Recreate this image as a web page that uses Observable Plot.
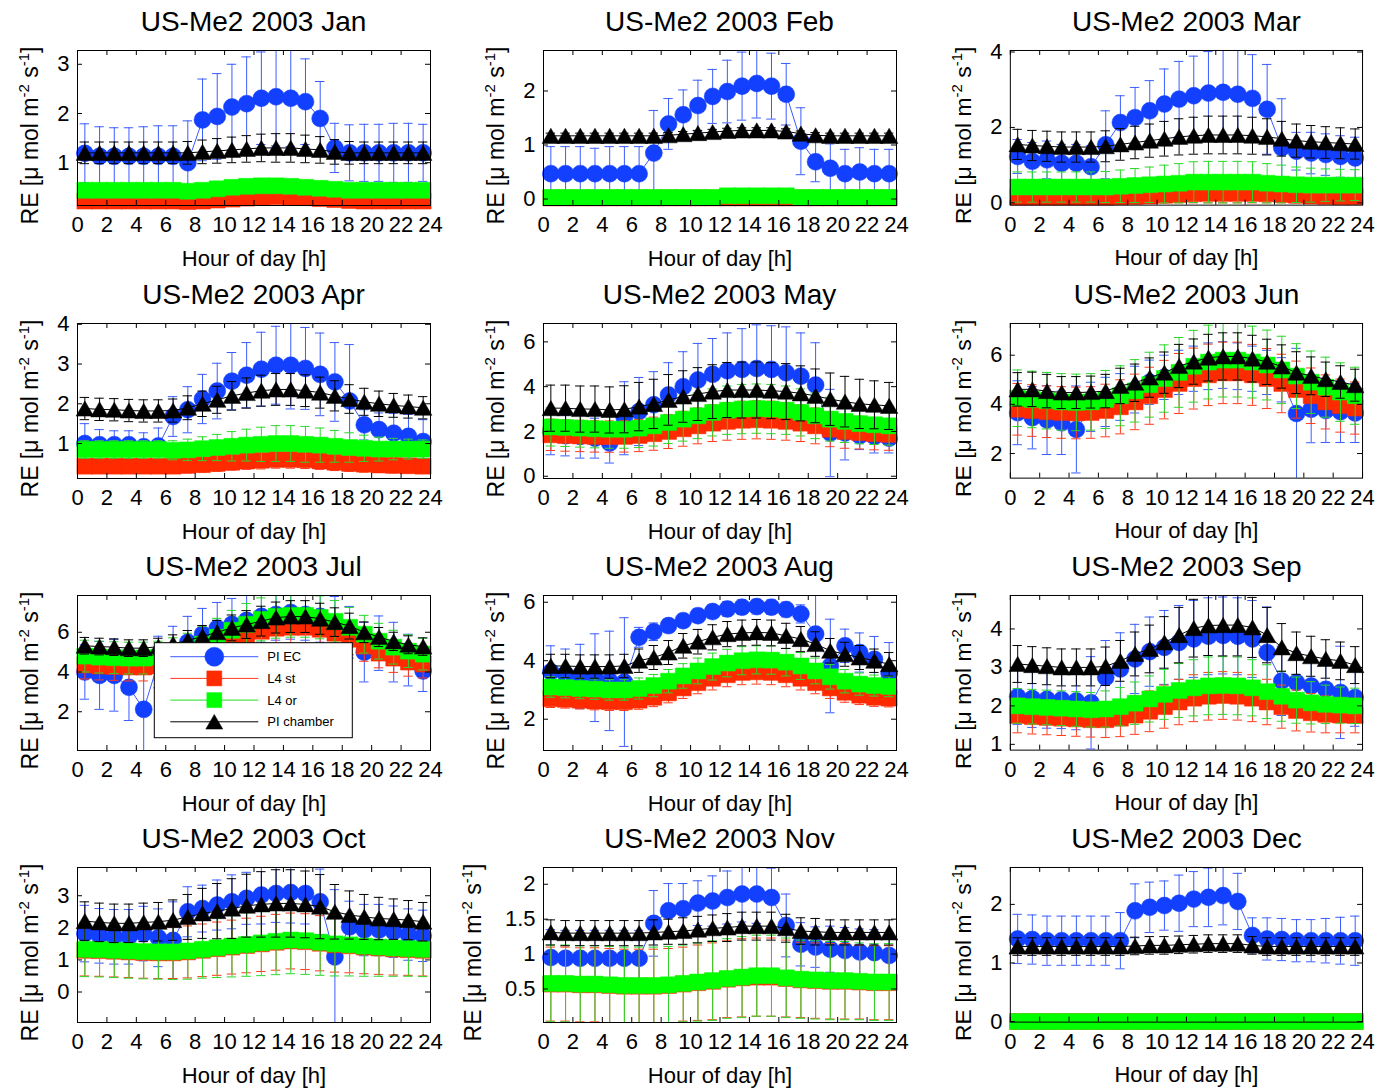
<!DOCTYPE html>
<html>
<head>
<meta charset="utf-8">
<script src="https://cdn.jsdelivr.net/npm/d3@7"></script>
<script src="https://cdn.jsdelivr.net/npm/@observablehq/plot@0.6"></script>
<style>
  html, body { margin: 0; padding: 0; background: #ffffff; }
  #chart { position: relative; width: 1378px; height: 1091px; overflow: hidden; background: #ffffff; }
  .panel { position: absolute; }
  .title { position: absolute; white-space: nowrap; font-family: "Liberation Sans", Arial, Helvetica, sans-serif; font-size: 28px; line-height: 28px; color: #000; }
</style>
</head>
<body>
<div id="chart"></div>
<script>
const FONT = '"Liberation Sans", Arial, Helvetica, sans-serif';

// ---------------- data ----------------
const months = ["Jan","Feb","Mar","Apr","May","Jun","Jul","Aug","Sep","Oct","Nov","Dec"];
const hours = [0.5,1.5,2.5,3.5,4.5,5.5,6.5,7.5,8.5,9.5,10.5,11.5,12.5,13.5,14.5,15.5,16.5,17.5,18.5,19.5,20.5,21.5,22.5,23.5];
const xTicks = [0,2,4,6,8,10,12,14,16,18,20,22,24];
const seriesNames = ["PI EC","L4 st","L4 or","PI chamber"];
const xLabel = "Hour of day [h]";

const yDomains = [[0.13,3.28],[-0.12,2.75],[-0.06,4.04],[0.12,4.02],[-0.1,6.82],[1.0,7.29],
                  [0.05,7.85],[0.93,6.23],[0.85,4.87],[-0.95,3.88],[0.02,2.24],[-0.01,2.63]];
const yTicks = [[1,2,3],[0,1,2],[0,2,4],[1,2,3,4],[0,2,4,6],[2,4,6],
                [2,4,6],[2,4,6],[1,2,3,4],[0,1,2,3],[0.5,1,1.5,2],[0,1,2]];

// PI EC (blue)
const ecVal = [
 [1.19,1.13,1.13,1.13,1.13,1.13,1.13,1.0,1.87,1.94,2.13,2.2,2.31,2.34,2.31,2.24,1.9,1.3,1.2,1.2,1.2,1.2,1.2,1.2],
 [0.47,0.47,0.47,0.47,0.47,0.47,0.47,0.85,1.39,1.56,1.73,1.9,1.99,2.09,2.14,2.09,1.94,1.07,0.69,0.57,0.47,0.5,0.47,0.47],
 [1.23,1.1,1.14,1.05,1.05,0.96,1.54,2.13,2.26,2.44,2.62,2.75,2.84,2.91,2.93,2.88,2.77,2.48,1.46,1.37,1.32,1.28,1.23,1.19],
 [1.0,0.97,0.97,0.97,0.92,0.94,1.68,1.85,2.12,2.32,2.57,2.72,2.87,2.97,2.97,2.89,2.74,2.55,2.07,1.47,1.35,1.26,1.18,1.05],
 [1.96,1.81,1.78,1.7,1.48,2.59,2.89,3.19,3.63,4.0,4.3,4.55,4.71,4.77,4.81,4.77,4.62,4.47,4.07,1.93,1.93,1.81,1.78,1.7],
 [3.66,3.46,3.36,3.25,2.98,3.9,4.1,4.3,4.6,4.9,5.1,5.3,5.45,5.55,5.6,5.55,5.45,5.3,5.0,3.63,3.8,3.75,3.7,3.65],
 [4.0,3.83,3.83,3.23,2.12,4.5,5.0,5.5,5.9,6.2,6.4,6.6,6.8,6.9,7.0,6.9,6.8,6.5,6.0,5.0,5.45,5.0,4.6,4.05],
 [3.62,3.54,3.46,3.42,3.31,3.27,4.8,4.99,5.2,5.37,5.54,5.68,5.77,5.83,5.85,5.83,5.75,5.6,4.91,3.82,4.51,4.28,4.05,3.57],
 [2.24,2.19,2.17,2.16,2.13,2.08,2.74,2.96,3.22,3.41,3.52,3.65,3.74,3.81,3.83,3.81,3.74,3.39,2.65,2.61,2.52,2.43,2.35,2.22],
 [1.82,1.75,1.72,1.72,1.82,1.69,1.61,2.5,2.6,2.71,2.81,2.92,3.02,3.07,3.1,3.07,2.81,1.09,2.03,1.93,1.93,1.88,1.79,1.75],
 [0.95,0.94,0.94,0.94,0.94,0.94,0.94,1.44,1.62,1.65,1.73,1.76,1.81,1.86,1.86,1.81,1.41,1.14,1.1,1.07,1.05,1.03,1.02,0.98],
 [1.41,1.4,1.38,1.38,1.38,1.38,1.38,1.38,1.89,1.95,1.98,2.02,2.09,2.12,2.15,2.05,1.47,1.41,1.4,1.38,1.38,1.38,1.38,1.38]
];
const ecErr = [
 [0.6,0.6,0.58,0.58,0.6,0.62,0.62,0.85,0.83,0.87,0.87,0.95,0.94,1.0,0.98,0.87,0.75,0.5,0.57,0.58,0.58,0.6,0.6,0.58],
 [0.5,0.5,0.5,0.47,0.5,0.5,0.5,0.79,0.47,0.46,0.47,0.5,0.58,0.63,0.64,0.61,0.57,0.62,0.37,0.45,0.45,0.45,0.45,0.45],
 [0.45,0.5,0.5,0.5,0.5,0.55,0.9,0.71,0.8,0.8,0.93,1.0,1.05,1.1,1.15,1.16,1.16,1.19,1.3,0.5,0.55,0.55,0.55,0.55],
 [0.5,0.38,0.35,0.35,0.35,0.45,0.5,0.58,0.62,0.7,0.72,0.82,0.93,0.98,1.1,1.03,1.04,0.99,1.42,0.38,0.42,0.5,0.55,0.55],
 [1.0,0.9,0.97,0.89,0.89,1.63,1.52,1.48,1.44,1.56,1.63,1.6,1.69,1.82,1.95,1.95,2.05,1.93,1.89,1.95,1.2,0.62,0.74,0.66],
 [1.3,1.27,1.4,1.29,1.77,1.0,1.0,0.95,0.95,0.9,0.9,0.9,0.92,0.95,0.95,0.95,0.92,0.9,0.9,2.65,1.36,1.3,1.25,1.2],
 [1.37,1.71,1.8,1.67,2.2,1.3,1.3,1.3,1.3,1.3,1.3,1.3,1.3,1.3,1.35,1.3,1.3,1.3,1.3,1.5,1.37,1.5,1.3,1.03],
 [0.89,0.86,1.1,1.5,1.7,2.2,0.34,0.3,0.23,0.23,0.23,0.23,0.25,0.25,0.25,0.25,0.25,0.31,1.4,1.6,0.57,0.67,0.78,1.05],
 [0.72,0.75,0.75,0.75,0.75,1.2,0.96,0.94,0.9,0.9,0.96,0.96,1.0,1.0,1.0,1.0,1.0,1.18,0.9,0.8,0.75,0.8,1.2,0.75],
 [0.88,0.85,0.85,0.85,0.85,0.9,1.2,0.78,0.73,0.78,0.84,0.81,0.9,0.9,0.95,0.95,1.02,2.1,0.8,0.8,0.8,0.8,0.8,0.8],
 [0.4,0.4,0.4,0.4,0.4,0.4,0.4,0.47,0.39,0.36,0.32,0.36,0.38,0.4,0.42,0.42,0.45,0.31,0.29,0.33,0.33,0.33,0.33,0.3],
 [0.42,0.42,0.42,0.42,0.42,0.42,0.42,0.48,0.46,0.43,0.42,0.48,0.47,0.5,0.5,0.48,0.3,0.36,0.36,0.36,0.36,0.38,0.4,0.42]
];

// L4 st (red)
const stVal = [
 [0.22,0.22,0.22,0.22,0.22,0.22,0.22,0.21,0.22,0.24,0.26,0.28,0.3,0.31,0.3,0.29,0.27,0.25,0.23,0.22,0.22,0.22,0.22,0.22],
 [0.02,0.02,0.02,0.02,0.02,0.02,0.02,0.02,0.02,0.02,0.02,0.02,0.02,0.02,0.02,0.02,0.02,0.02,0.02,0.02,0.02,0.02,0.02,0.02],
 [0.15,0.15,0.15,0.15,0.15,0.15,0.15,0.16,0.17,0.18,0.2,0.22,0.24,0.25,0.25,0.25,0.25,0.24,0.22,0.2,0.18,0.17,0.16,0.16],
 [0.43,0.43,0.43,0.43,0.43,0.43,0.43,0.45,0.47,0.5,0.53,0.56,0.58,0.6,0.6,0.59,0.56,0.53,0.5,0.48,0.46,0.45,0.44,0.43],
 [1.85,1.82,1.8,1.78,1.77,1.78,1.82,1.9,2.0,2.12,2.25,2.37,2.45,2.5,2.52,2.5,2.45,2.37,2.25,2.1,2.0,1.95,1.9,1.87],
 [3.8,3.75,3.7,3.67,3.65,3.67,3.75,3.9,4.1,4.35,4.6,4.85,5.05,5.2,5.28,5.28,5.2,5.05,4.85,4.6,4.35,4.1,3.95,3.85],
 [4.35,4.3,4.28,4.25,4.25,4.3,4.45,4.65,4.95,5.25,5.55,5.85,6.05,6.2,6.25,6.25,6.15,5.95,5.65,5.3,4.95,4.7,4.5,4.4],
 [2.7,2.68,2.65,2.62,2.6,2.6,2.65,2.75,2.9,3.07,3.25,3.4,3.52,3.6,3.62,3.6,3.52,3.4,3.25,3.07,2.92,2.82,2.75,2.72],
 [1.75,1.72,1.7,1.68,1.66,1.64,1.64,1.68,1.76,1.86,1.98,2.1,2.2,2.25,2.27,2.25,2.2,2.1,1.98,1.88,1.82,1.78,1.76,1.75],
 [1.3,1.29,1.27,1.25,1.23,1.22,1.22,1.25,1.3,1.35,1.4,1.45,1.5,1.55,1.59,1.57,1.52,1.47,1.44,1.4,1.37,1.34,1.32,1.3],
 [0.57,0.57,0.56,0.56,0.55,0.54,0.54,0.54,0.55,0.57,0.59,0.61,0.64,0.66,0.67,0.67,0.65,0.63,0.62,0.61,0.61,0.6,0.59,0.59],
 [0,0,0,0,0,0,0,0,0,0,0,0,0,0,0,0,0,0,0,0,0,0,0,0]
];
const stErr = [
 [0.04,0.04,0.04,0.04,0.04,0.04,0.04,0.04,0.04,0.04,0.04,0.04,0.04,0.04,0.04,0.04,0.04,0.04,0.04,0.04,0.04,0.04,0.04,0.04],
 [0,0,0,0,0,0,0,0,0,0,0,0,0,0,0,0,0,0,0,0,0,0,0,0],
 [0.15,0.15,0.15,0.15,0.15,0.15,0.15,0.16,0.17,0.18,0.2,0.22,0.24,0.25,0.25,0.25,0.25,0.24,0.22,0.2,0.18,0.17,0.16,0.16],
 [0.18,0.18,0.18,0.18,0.18,0.18,0.18,0.19,0.19,0.2,0.2,0.21,0.22,0.22,0.22,0.22,0.21,0.21,0.2,0.2,0.19,0.19,0.18,0.18],
 [0.7,0.7,0.7,0.7,0.7,0.7,0.72,0.74,0.76,0.78,0.8,0.82,0.84,0.85,0.85,0.85,0.84,0.82,0.8,0.78,0.75,0.73,0.72,0.71],
 [1.05,1.05,1.05,1.05,1.05,1.05,1.07,1.1,1.13,1.16,1.19,1.22,1.24,1.25,1.25,1.25,1.24,1.22,1.19,1.16,1.13,1.1,1.08,1.06],
 [0.7,0.7,0.7,0.7,0.7,0.7,0.71,0.72,0.74,0.76,0.78,0.79,0.8,0.8,0.8,0.8,0.8,0.79,0.78,0.76,0.74,0.72,0.71,0.7],
 [0.3,0.3,0.3,0.3,0.3,0.3,0.31,0.32,0.34,0.36,0.38,0.4,0.41,0.42,0.42,0.42,0.41,0.4,0.38,0.36,0.34,0.32,0.31,0.3],
 [0.45,0.45,0.45,0.45,0.45,0.45,0.46,0.48,0.5,0.53,0.56,0.59,0.61,0.62,0.62,0.62,0.61,0.59,0.56,0.53,0.5,0.48,0.46,0.45],
 [0.8,0.8,0.8,0.8,0.8,0.8,0.8,0.81,0.82,0.83,0.84,0.85,0.86,0.87,0.87,0.87,0.86,0.85,0.84,0.83,0.82,0.81,0.8,0.8],
 [0.53,0.53,0.53,0.53,0.53,0.53,0.53,0.53,0.53,0.53,0.54,0.55,0.55,0.56,0.56,0.56,0.55,0.54,0.54,0.54,0.54,0.53,0.53,0.53],
 [0,0,0,0,0,0,0,0,0,0,0,0,0,0,0,0,0,0,0,0,0,0,0,0]
];

// L4 or (green)
const orVal = [
 [0.44,0.44,0.44,0.44,0.44,0.44,0.44,0.42,0.44,0.47,0.5,0.52,0.53,0.53,0.52,0.5,0.48,0.46,0.44,0.44,0.44,0.44,0.44,0.44],
 [0.03,0.03,0.03,0.03,0.03,0.03,0.03,0.03,0.03,0.03,0.03,0.03,0.06,0.06,0.06,0.06,0.06,0.03,0.03,0.03,0.03,0.03,0.03,0.03],
 [0.42,0.42,0.42,0.42,0.42,0.42,0.42,0.44,0.46,0.48,0.5,0.52,0.55,0.55,0.55,0.55,0.55,0.52,0.5,0.48,0.47,0.47,0.47,0.47],
 [0.85,0.85,0.85,0.85,0.85,0.85,0.83,0.84,0.87,0.9,0.93,0.96,0.98,1.0,1.0,0.98,0.96,0.93,0.9,0.88,0.86,0.86,0.86,0.86],
 [2.2,2.18,2.15,2.12,2.1,2.1,2.15,2.25,2.4,2.55,2.7,2.85,2.95,3.0,3.02,3.0,2.95,2.85,2.7,2.55,2.45,2.35,2.3,2.25],
 [4.25,4.2,4.15,4.1,4.08,4.1,4.2,4.35,4.55,4.8,5.05,5.3,5.55,5.72,5.8,5.8,5.72,5.6,5.4,5.15,4.9,4.7,4.5,4.35],
 [4.8,4.75,4.72,4.7,4.7,4.75,4.9,5.1,5.4,5.75,6.1,6.4,6.65,6.8,6.85,6.85,6.75,6.55,6.25,5.9,5.55,5.25,5.05,4.9],
 [3.1,3.08,3.05,3.03,3.0,3.0,3.05,3.15,3.3,3.48,3.65,3.8,3.92,4.0,4.03,4.02,3.95,3.82,3.65,3.45,3.3,3.2,3.15,3.12],
 [2.0,1.98,1.96,1.94,1.92,1.9,1.92,1.98,2.07,2.18,2.3,2.4,2.47,2.52,2.53,2.52,2.47,2.37,2.25,2.15,2.08,2.04,2.02,2.0],
 [1.33,1.32,1.3,1.28,1.26,1.25,1.25,1.28,1.33,1.38,1.43,1.48,1.53,1.58,1.62,1.6,1.55,1.5,1.47,1.43,1.4,1.37,1.35,1.33],
 [0.58,0.58,0.57,0.57,0.56,0.55,0.55,0.55,0.56,0.58,0.6,0.62,0.65,0.67,0.69,0.69,0.66,0.64,0.63,0.62,0.62,0.61,0.6,0.6],
 [0,0,0,0,0,0,0,0,0,0,0,0,0,0,0,0,0,0,0,0,0,0,0,0]
];
const orErr = [
 [0.05,0.05,0.05,0.05,0.05,0.05,0.05,0.05,0.05,0.05,0.05,0.05,0.05,0.05,0.05,0.05,0.05,0.05,0.05,0.05,0.05,0.05,0.05,0.05],
 [0,0,0,0,0,0,0,0,0,0,0,0,0,0,0,0,0,0,0,0,0,0,0,0],
 [0.4,0.4,0.4,0.4,0.4,0.4,0.41,0.43,0.45,0.47,0.5,0.52,0.54,0.55,0.55,0.55,0.54,0.52,0.5,0.47,0.45,0.43,0.42,0.41],
 [0.22,0.22,0.22,0.22,0.22,0.22,0.24,0.27,0.3,0.33,0.37,0.4,0.43,0.45,0.45,0.45,0.43,0.4,0.37,0.33,0.3,0.27,0.25,0.23],
 [0.85,0.85,0.85,0.85,0.85,0.85,0.87,0.9,0.94,0.98,1.02,1.05,1.08,1.1,1.1,1.1,1.08,1.05,1.02,0.98,0.94,0.9,0.88,0.86],
 [1.15,1.15,1.15,1.15,1.15,1.15,1.18,1.22,1.27,1.32,1.37,1.42,1.46,1.5,1.5,1.5,1.46,1.42,1.37,1.32,1.27,1.22,1.19,1.16],
 [0.8,0.8,0.8,0.8,0.8,0.8,0.82,0.85,0.9,0.95,1.0,1.05,1.08,1.1,1.1,1.1,1.08,1.05,1.0,0.95,0.9,0.85,0.82,0.8],
 [0.35,0.35,0.35,0.35,0.35,0.35,0.36,0.38,0.4,0.42,0.44,0.46,0.47,0.48,0.48,0.48,0.47,0.46,0.44,0.42,0.4,0.38,0.36,0.35],
 [0.45,0.45,0.45,0.45,0.45,0.45,0.47,0.5,0.55,0.6,0.65,0.7,0.73,0.75,0.75,0.75,0.73,0.7,0.65,0.6,0.55,0.5,0.47,0.46],
 [0.85,0.85,0.85,0.85,0.85,0.85,0.86,0.88,0.9,0.93,0.96,0.99,1.02,1.04,1.05,1.05,1.03,1.0,0.97,0.94,0.91,0.88,0.86,0.85],
 [0.55,0.55,0.55,0.55,0.55,0.55,0.55,0.55,0.55,0.55,0.56,0.57,0.57,0.58,0.58,0.58,0.57,0.56,0.56,0.56,0.56,0.55,0.55,0.55],
 [0,0,0,0,0,0,0,0,0,0,0,0,0,0,0,0,0,0,0,0,0,0,0,0]
];

// PI chamber (black)
const chVal = [
 [1.2,1.2,1.2,1.2,1.2,1.2,1.2,1.2,1.22,1.24,1.26,1.28,1.3,1.3,1.3,1.28,1.26,1.22,1.2,1.2,1.2,1.2,1.2,1.2],
 [1.17,1.17,1.17,1.17,1.17,1.17,1.17,1.17,1.18,1.2,1.22,1.24,1.26,1.27,1.27,1.27,1.25,1.21,1.18,1.17,1.17,1.17,1.17,1.17],
 [1.55,1.52,1.5,1.48,1.48,1.48,1.5,1.55,1.6,1.65,1.7,1.75,1.78,1.8,1.8,1.8,1.78,1.75,1.7,1.65,1.62,1.6,1.58,1.56],
 [1.88,1.86,1.85,1.83,1.82,1.82,1.83,1.9,2.0,2.1,2.2,2.27,2.33,2.36,2.36,2.33,2.28,2.2,2.12,2.05,2.0,1.96,1.93,1.9],
 [3.04,3.04,3.0,3.0,2.96,2.99,3.11,3.23,3.41,3.56,3.67,3.78,3.85,3.85,3.85,3.82,3.78,3.7,3.59,3.44,3.33,3.23,3.19,3.14],
 [4.61,4.61,4.54,4.48,4.48,4.5,4.54,4.75,4.88,5.09,5.29,5.56,5.74,5.9,5.95,5.95,5.86,5.73,5.54,5.29,5.16,5.02,4.91,4.78],
 [5.32,5.28,5.25,5.2,5.2,5.28,5.42,5.59,5.79,6.0,6.22,6.39,6.56,6.74,6.79,6.79,6.68,6.51,6.31,6.0,5.76,5.54,5.37,5.28],
 [3.82,3.82,3.8,3.8,3.8,3.82,4.0,4.11,4.28,4.51,4.65,4.8,4.91,4.95,4.97,4.95,4.85,4.74,4.57,4.34,4.22,4.11,4.0,3.88],
 [3.09,3.06,3.03,3.0,3.0,3.0,3.03,3.17,3.35,3.48,3.65,3.84,4.02,4.09,4.1,4.1,4.04,3.84,3.52,3.37,3.29,3.22,3.17,3.06],
 [2.21,2.17,2.14,2.14,2.17,2.19,2.24,2.34,2.45,2.52,2.6,2.69,2.73,2.76,2.76,2.73,2.66,2.5,2.4,2.34,2.29,2.27,2.24,2.19],
 [1.31,1.3,1.3,1.3,1.3,1.3,1.3,1.31,1.32,1.33,1.35,1.37,1.38,1.4,1.4,1.4,1.37,1.33,1.32,1.31,1.31,1.31,1.31,1.31],
 [1.28,1.28,1.28,1.28,1.28,1.28,1.28,1.28,1.29,1.3,1.3,1.31,1.32,1.33,1.33,1.33,1.3,1.28,1.28,1.28,1.28,1.28,1.28,1.28]
];
const chErr = [
 [0.22,0.22,0.22,0.22,0.22,0.22,0.22,0.23,0.24,0.25,0.26,0.27,0.28,0.29,0.29,0.28,0.27,0.25,0.23,0.22,0.22,0.22,0.22,0.22],
 [0.05,0.05,0.05,0.05,0.05,0.05,0.05,0.05,0.05,0.05,0.05,0.05,0.05,0.05,0.05,0.05,0.05,0.05,0.05,0.05,0.05,0.05,0.05,0.05],
 [0.4,0.4,0.4,0.4,0.4,0.4,0.41,0.42,0.43,0.44,0.46,0.48,0.49,0.5,0.5,0.5,0.49,0.48,0.46,0.44,0.43,0.42,0.41,0.4],
 [0.28,0.28,0.28,0.28,0.28,0.28,0.29,0.3,0.32,0.34,0.36,0.38,0.39,0.4,0.4,0.4,0.39,0.38,0.36,0.34,0.32,0.3,0.29,0.28],
 [1.03,1.03,1.03,1.03,1.03,1.05,1.08,1.1,1.13,1.15,1.18,1.2,1.23,1.25,1.25,1.25,1.25,1.23,1.2,1.17,1.13,1.1,1.07,1.05],
 [0.68,0.7,0.68,0.65,0.65,0.65,0.68,0.72,0.76,0.8,0.84,0.88,0.92,0.95,0.96,0.96,0.95,0.92,0.88,0.85,0.77,0.7,0.66,0.65],
 [0.42,0.42,0.42,0.42,0.42,0.42,0.45,0.5,0.55,0.6,0.65,0.7,0.75,0.78,0.8,0.8,0.78,0.72,0.65,0.52,0.48,0.46,0.45,0.44],
 [0.4,0.4,0.4,0.4,0.4,0.4,0.4,0.41,0.41,0.42,0.42,0.43,0.43,0.44,0.44,0.44,0.43,0.43,0.42,0.42,0.41,0.41,0.4,0.4],
 [0.48,0.48,0.48,0.48,0.48,0.48,0.5,0.53,0.57,0.62,0.67,0.72,0.75,0.78,0.8,0.8,0.78,0.72,0.62,0.55,0.52,0.5,0.49,0.48],
 [0.6,0.6,0.6,0.6,0.6,0.6,0.63,0.7,0.78,0.86,0.93,0.98,1.02,1.05,1.05,1.04,1.0,0.85,0.75,0.7,0.66,0.63,0.61,0.6],
 [0.18,0.18,0.18,0.18,0.18,0.18,0.18,0.18,0.18,0.19,0.19,0.19,0.2,0.2,0.2,0.2,0.2,0.19,0.19,0.18,0.18,0.18,0.18,0.18],
 [0.15,0.15,0.15,0.15,0.15,0.15,0.15,0.15,0.15,0.15,0.15,0.15,0.15,0.15,0.15,0.15,0.15,0.15,0.15,0.15,0.15,0.15,0.15,0.15]
];

// ---------------- styles / layout ----------------
const styles = [
  {symbol: "circle",   r: 8.5, fill: "#1340ff", line: "#3a5cff", bar: "#3a5cff", dy: 0},
  {symbol: "square",   r: 9.0, fill: "#ff2a00", line: "#ff3a1a", bar: "#ff3a1a", dy: 0},
  {symbol: "square",   r: 9.0, fill: "#00ff00", line: "#22e022", bar: "#2ad82a", dy: 0},
  {symbol: "triangle", r: 6.5, fill: "#000000", line: "#000000", bar: "#000000", dy: 2.5}
];
const colLeft = [77, 543, 1010];
const rowTop = [50, 323, 595, 867];
const FW = 353, FH = 155;
const ML = 70, MR = 16, MT = 8, MB = 70;
const CAP = 0.32;     // half cap width (hours)
const TICKPX = 5;     // inward tick length (px)

const chart = document.getElementById("chart");

function makeData(vals, errs) {
  return hours.map((h, i) => ({h, v: vals[i], e: errs[i]}));
}

function seriesMarks(data, s) {
  const eb = data.filter(d => d.e > 0);
  return [
    Plot.ruleX(eb, {x: "h", y1: d => d.v - d.e, y2: d => d.v + d.e, stroke: s.bar, strokeWidth: 1, clip: true}),
    Plot.ruleY(eb, {y: d => d.v + d.e, x1: d => d.h - CAP, x2: d => d.h + CAP, stroke: s.bar, strokeWidth: 1, clip: true}),
    Plot.ruleY(eb, {y: d => d.v - d.e, x1: d => d.h - CAP, x2: d => d.h + CAP, stroke: s.bar, strokeWidth: 1, clip: true}),
    Plot.line(data, {x: "h", y: "v", stroke: s.line, strokeWidth: 1, clip: true}),
    Plot.dot(data, {x: "h", y: "v", symbol: s.symbol, r: s.r, fill: s.fill, stroke: s.fill, strokeWidth: 0.5, dy: s.dy})
  ];
}

function drawTitle(text, cx, baseline) {
  const probe = document.createElement("span");
  probe.style.cssText = `position:absolute;visibility:hidden;white-space:nowrap;font-family:${FONT};font-size:28px;`;
  probe.textContent = text;
  document.body.appendChild(probe);
  const w = probe.getBoundingClientRect().width;
  probe.remove();
  const div = document.createElement("div");
  div.className = "title";
  div.textContent = text;
  div.style.left = (cx - w / 2) + "px";
  div.style.top = (baseline - 23.7) + "px";
  chart.appendChild(div);
}

const seriesVals = [ecVal, stVal, orVal, chVal];
const seriesErrs = [ecErr, stErr, orErr, chErr];

months.forEach((m, i) => {
  const col = i % 3, row = Math.floor(i / 3);
  const [y0, y1] = yDomains[i];
  const tly = TICKPX * (y1 - y0) / FH;
  const tlx = TICKPX * 24 / FW;
  const marks = [];
  seriesVals.forEach((sv, k) => marks.push(...seriesMarks(makeData(sv[i], seriesErrs[k][i]), styles[k])));
  marks.push(
    Plot.ruleX(xTicks, {x: d => d, y1: y0, y2: y0 + tly, stroke: "black"}),
    Plot.ruleX(xTicks, {x: d => d, y1: y1 - tly, y2: y1, stroke: "black"}),
    Plot.ruleY(yTicks[i], {y: d => d, x1: 0, x2: tlx, stroke: "black"}),
    Plot.ruleY(yTicks[i], {y: d => d, x1: 24 - tlx, x2: 24, stroke: "black"}),
    Plot.frame({stroke: "black", strokeWidth: 1}),
    Plot.axisX({ticks: xTicks, tickSize: 0, tickPadding: 11, tickFormat: d => String(d), label: null}),
    Plot.axisY({ticks: yTicks[i], tickSize: 0, tickPadding: 8, tickFormat: d => String(d), label: null}),
    Plot.text([xLabel], {frameAnchor: "bottom", dy: 60, text: d => d, fill: "black"})
  );
  const svg = Plot.plot({
    width: ML + FW + MR, height: MT + FH + MB,
    marginLeft: ML, marginRight: MR, marginTop: MT, marginBottom: MB,
    style: {fontFamily: FONT, fontSize: "22px", color: "black", background: "transparent", overflow: "visible"},
    x: {domain: [0, 24], axis: null},
    y: {domain: [y0, y1], axis: null},
    marks
  });
  // y-axis label with superscripts (placed further left when tick labels are wider)
  const wideTicks = yTicks[i].some(t => !Number.isInteger(t));
  const labX = ML - (wideTicks ? 62 : 39);
  const s = d3.select(svg);
  const lab = s.append("text")
    .attr("transform", `translate(${labX},${MT + FH / 2 + 8}) rotate(-90)`)
    .attr("text-anchor", "middle")
    .attr("font-family", FONT).attr("font-size", 23).attr("fill", "black");
  lab.append("tspan").text("RE [\u03bc mol m");
  lab.append("tspan").attr("font-size", 15).attr("dy", -9).text("-2");
  lab.append("tspan").attr("dy", 9).text(" s");
  lab.append("tspan").attr("font-size", 15).attr("dy", -9).text("-1");
  lab.append("tspan").attr("dy", 9).text("]");

  if (m === "Jul") {
    const g = s.append("g").attr("transform", "translate(147.3,55.7)");
    g.append("rect").attr("x", 0).attr("y", 0).attr("width", 198).attr("height", 95)
      .attr("fill", "white").attr("stroke", "black").attr("stroke-width", 1);
    const legSym = [d3.symbol(d3.symbolCircle, 283), d3.symbol(d3.symbolSquare, 225), d3.symbol(d3.symbolSquare, 225), d3.symbol(d3.symbolTriangle, 125)];
    const legDy = [0, 0, 0, 2.4];
    seriesNames.forEach((name, k) => {
      const yy = 14 + k * 21.7;
      g.append("line").attr("x1", 16).attr("x2", 104).attr("y1", yy).attr("y2", yy)
        .attr("stroke", styles[k].line).attr("stroke-width", 1);
      g.append("path").attr("d", legSym[k]()).attr("transform", `translate(60,${yy + legDy[k]})`)
        .attr("fill", styles[k].fill).attr("stroke", styles[k].fill).attr("stroke-width", 0.5);
      g.append("text").attr("x", 113).attr("y", yy).attr("dy", "0.35em")
        .attr("text-anchor", "start")
        .attr("font-family", FONT).attr("font-size", 13).attr("fill", "black").text(name);
    });
  }

  const wrap = document.createElement("div");
  wrap.className = "panel";
  wrap.style.left = (colLeft[col] - ML) + "px";
  wrap.style.top = (rowTop[row] - MT) + "px";
  wrap.appendChild(svg);
  chart.appendChild(wrap);

  drawTitle(`US-Me2 2003 ${m}`, colLeft[col] + FW / 2, rowTop[row] - 18);
});
</script>
</body>
</html>
